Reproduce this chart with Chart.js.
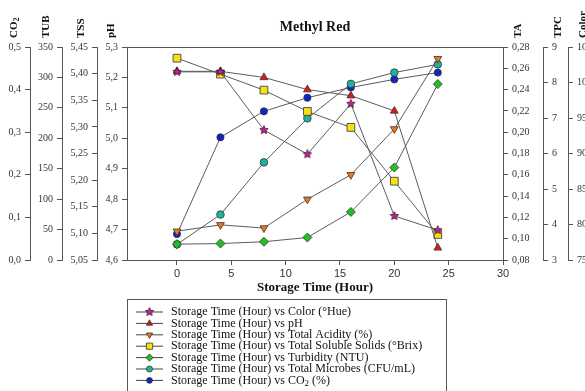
<!DOCTYPE html>
<html>
<head>
<meta charset="utf-8">
<script src="https://cdn.jsdelivr.net/npm/chart.js@4/dist/chart.umd.min.js"></script>
<style>
  html, body { margin: 0; padding: 0; background: #fff; }
  canvas { display: block; }
</style>
</head>
<body>
<canvas id="chart" width="585" height="391"></canvas>
<script>
// Storage time (hours) at which each sample was measured
const hours = [0, 4, 8, 12, 16, 20, 24];

// Measured quality parameters
const colorHue      = [101.5, 101.5, 93.3, 89.9, 97.0, 81.2, 79.2];
const phValues      = [5.22, 5.22, 5.20, 5.16, 5.14, 5.09, 4.64];
const totalAcidity  = [0.107, 0.113, 0.110, 0.137, 0.160, 0.203, 0.269];
const solubleSolids = [5.429, 5.399, 5.369, 5.329, 5.299, 5.198, 5.098];
const turbidity     = [26, 27, 30, 37, 79, 152, 289];
const totalMicrobes = [3.44, 4.28, 5.75, 6.99, 7.96, 8.28, 8.51];
const co2Values     = [0.061, 0.288, 0.349, 0.381, 0.405, 0.424, 0.440];

// Axis ranges: [min, max, step]
const hourAxis  = [-4.6, 30, 5];
const co2Axis   = [0, 0.5, 0.1];
const tubAxis   = [0, 350, 50];
const tssAxis   = [5.05, 5.45, 0.05];
const phAxis    = [4.6, 5.3, 0.1];
const taAxis    = [0.08, 0.28, 0.02];
const tpcAxis   = [3, 9, 1];
const colorAxis = [75, 105, 5];

const seriesNames = [
  'Storage Time (Hour) vs Color (°Hue)',
  'Storage Time (Hour) vs pH',
  'Storage Time (Hour) vs Total Acidity (%)',
  'Storage Time (Hour) vs Total Soluble Solids (°Brix)',
  'Storage Time (Hour) vs Turbidity (NTU)',
  'Storage Time (Hour) vs Total Microbes (CFU/mL)',
  'Storage Time (Hour) vs CO₂ (%)'
];

const SERIF = '"Liberation Serif", "Times New Roman", serif';
const SANS = '"Liberation Sans", Arial, sans-serif';

// Small filled five-point star used as the marker of the colour series
function starImage(fill, stroke, size) {
  const c = document.createElement('canvas');
  c.width = c.height = size;
  const g = c.getContext('2d');
  const cx = size / 2, cy = size / 2, ro = size / 2 - 0.6, ri = ro * 0.45;
  g.beginPath();
  for (let k = 0; k < 10; k++) {
    const r = k % 2 ? ri : ro;
    const a = -Math.PI / 2 + k * Math.PI / 5;
    const px = cx + r * Math.cos(a), py = cy + r * Math.sin(a);
    k ? g.lineTo(px, py) : g.moveTo(px, py);
  }
  g.closePath();
  g.fillStyle = fill;
  g.fill();
  g.lineWidth = 0.8;
  g.strokeStyle = stroke;
  g.stroke();
  return c;
}

function points(values) {
  return hours.map((h, i) => ({ x: h, y: values[i] }));
}

function series(idx, values, axis, style, fill, radius, rotation) {
  return {
    label: seriesNames[idx],
    data: points(values),
    yAxisID: axis,
    borderColor: '#5c5c5c',
    borderWidth: 1,
    pointStyle: style,
    pointRadius: radius,
    pointRotation: rotation || 0,
    pointBackgroundColor: fill,
    pointBorderColor: '#333',
    pointBorderWidth: 0.8,
    fill: false,
    tension: 0
  };
}

const datasets = [
  series(0, colorHue, 'yColor', starImage('#c0268f', '#3a1030', 10), '#c0268f', 5),
  series(1, phValues, 'yPH', 'triangle', '#e01818', 4.5),
  series(2, totalAcidity, 'yTA', 'triangle', '#f07818', 4.5, 180),
  series(3, solubleSolids, 'yTSS', 'rect', '#f6e01a', 5.5),
  series(4, turbidity, 'yTUB', 'rectRot', '#22c022', 4.5),
  series(5, totalMicrobes, 'yTPC', 'circle', '#1eb39c', 3.8),
  series(6, co2Values, 'yCO2', 'circle', '#1424c0', 3.6)
];

function yScale(range, position, weight, width, decimals) {
  return {
    type: 'linear',
    position: position,
    weight: weight,
    min: range[0],
    max: range[1],
    afterFit: s => { s.width = width; },
    ticks: {
      stepSize: range[2],
      font: { family: SERIF, size: 10 },
      color: '#333',
      padding: 4,
      callback: v => Number(v).toFixed(decimals).replace('.', ',')
    },
    grid: { drawOnChartArea: false, drawTicks: true, tickLength: 5, color: '#555', lineWidth: 1 },
    border: { color: '#555', width: 1 }
  };
}

// Draws text where "₂" is rendered as a lowered small "2"
function drawRich(ctx, text, x, y, size, weight) {
  const parts = text.split('₂');
  let cx = x;
  parts.forEach((p, i) => {
    ctx.font = `${weight} ${size}px ${SERIF}`;
    ctx.fillText(p, cx, y);
    cx += ctx.measureText(p).width;
    if (i < parts.length - 1) {
      ctx.font = `${weight} ${Math.round(size * 0.75)}px ${SERIF}`;
      ctx.fillText('2', cx, y + size * 0.3);
      cx += ctx.measureText('2').width;
    }
  });
}

const decorations = {
  id: 'decorations',
  afterDraw(chart) {
    const ctx = chart.ctx;
    const area = chart.chartArea;
    ctx.save();

    // frame line along the top of the plot
    ctx.strokeStyle = '#555';
    ctx.lineWidth = 1;
    ctx.beginPath();
    ctx.moveTo(area.left, Math.round(area.top) + 0.5);
    ctx.lineTo(area.right, Math.round(area.top) + 0.5);
    ctx.stroke();

    // chart title
    ctx.fillStyle = '#111';
    ctx.textAlign = 'center';
    ctx.textBaseline = 'middle';
    ctx.font = `bold 14px ${SERIF}`;
    ctx.fillText('Methyl Red', 315, 27);

    // rotated axis names above each vertical axis
    const names = [
      ['yCO2', 'CO₂'], ['yTUB', 'TUB'], ['yTSS', 'TSS'], ['yPH', 'pH'],
      ['yTA', 'TA'], ['yTPC', 'TPC'], ['yColor', 'Color']
    ];
    names.forEach(([id, name]) => {
      const s = chart.scales[id];
      const x = s.position === 'left' ? s.right - 16 : s.left + 15;
      ctx.save();
      ctx.translate(x, 38);
      ctx.rotate(-Math.PI / 2);
      ctx.textAlign = 'left';
      ctx.textBaseline = 'middle';
      drawRich(ctx, name, 0, 0, 11, 'bold');
      ctx.restore();
    });

    // legend box
    ctx.strokeStyle = '#555';
    ctx.lineWidth = 1;
    ctx.strokeRect(127.5, 299.5, 319, 110);
    ctx.textAlign = 'left';
    ctx.textBaseline = 'middle';
    chart.data.datasets.forEach((ds, i) => {
      const y = 312 + i * 11.4;
      ctx.strokeStyle = '#444';
      ctx.lineWidth = 1;
      ctx.beginPath();
      ctx.moveTo(136, y);
      ctx.lineTo(163, y);
      ctx.stroke();
      ctx.fillStyle = ds.pointBackgroundColor;
      ctx.strokeStyle = ds.pointBorderColor;
      ctx.lineWidth = 0.8;
      Chart.helpers.drawPoint(ctx, {
        pointStyle: ds.pointStyle,
        rotation: ds.pointRotation,
        radius: ds.pointRadius * 0.8,
        borderWidth: 0.8
      }, 149.5, y);
      ctx.fillStyle = '#111';
      drawRich(ctx, ds.label, 171, y, 12, 'normal');
    });
    ctx.restore();
  }
};

new Chart(document.getElementById('chart'), {
  type: 'line',
  data: { datasets: datasets },
  options: {
    responsive: false,
    animation: false,
    devicePixelRatio: 1,
    layout: { padding: { top: 47, left: 0, right: 0, bottom: 96 } },
    plugins: { legend: { display: false }, tooltip: { enabled: false } },
    scales: {
      x: {
        type: 'linear',
        position: 'bottom',
        min: hourAxis[0],
        max: hourAxis[1],
        afterBuildTicks: s => { s.ticks = s.ticks.filter(t => t.value >= 0); },
        afterFit: s => { s.height = 35; },
        ticks: {
          stepSize: hourAxis[2],
          font: { family: SANS, size: 11 },
          color: '#333',
          padding: 2,
          maxRotation: 0
        },
        grid: { drawOnChartArea: false, drawTicks: true, tickLength: 5, color: '#555' },
        border: { color: '#555', width: 1 },
        title: {
          display: true,
          text: 'Storage Time (Hour)',
          font: { family: SERIF, size: 13, weight: 'bold' },
          color: '#111',
          padding: { top: 2, bottom: 0 }
        }
      },
      yPH:    yScale(phAxis, 'left', 0, 30, 1),
      yTSS:   yScale(tssAxis, 'left', 1, 35, 2),
      yTUB:   yScale(tubAxis, 'left', 2, 32, 0),
      yCO2:   yScale(co2Axis, 'left', 3, 30, 1),
      yTA:    yScale(taAxis, 'right', 0, 40, 2),
      yTPC:   yScale(tpcAxis, 'right', 1, 25, 0),
      yColor: yScale(colorAxis, 'right', 2, 17, 0)
    }
  },
  plugins: [decorations]
});
</script>
</body>
</html>
